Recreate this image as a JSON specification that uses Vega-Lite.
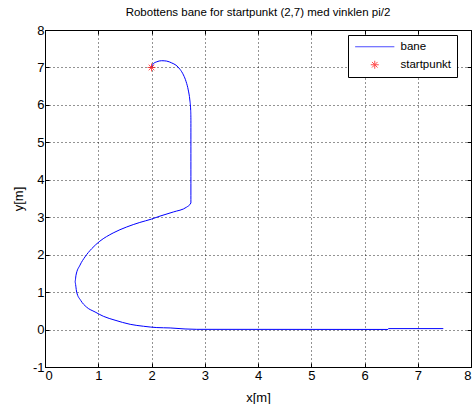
{
  "$schema": "https://vega.github.io/schema/vega-lite/v6.json",
  "autosize": {"type": "none"},
  "width": 426,
  "height": 337,
  "padding": {"left": 45, "top": 30, "right": 4, "bottom": 37},
  "background": "#ffffff",
  "config": {
    "font": "Liberation Sans",
    "view": {"stroke": "#000000", "strokeWidth": 1},
    "axis": {
      "domain": false,
      "gridColor": "#000000",
      "gridDash": [1, 3],
      "gridOpacity": 0.85,
      "gridWidth": 1,
      "tickColor": "#000000",
      "tickSize": -4,
      "labelFont": "Liberation Sans",
      "labelFontSize": 13,
      "labelColor": "#000000",
      "labelOverlap": false,
      "titleFont": "Liberation Sans",
      "titleFontSize": 13,
      "titleFontWeight": "normal",
      "titleColor": "#000000"
    }
  },
  "title": {
    "text": "Robottens bane for startpunkt (2,7) med vinklen pi/2",
    "font": "Liberation Sans",
    "fontSize": 11.5,
    "fontWeight": "normal",
    "color": "#000000",
    "anchor": "middle",
    "offset": 6
  },
  "datasets": {
    "path": [
      {"i": 0, "x": 2.0, "y": 7.0, "s": "bane"},
      {"i": 1, "x": 2.034, "y": 7.1, "s": "bane"},
      {"i": 2, "x": 2.098, "y": 7.15, "s": "bane"},
      {"i": 3, "x": 2.19, "y": 7.18, "s": "bane"},
      {"i": 4, "x": 2.285, "y": 7.17, "s": "bane"},
      {"i": 5, "x": 2.38, "y": 7.12, "s": "bane"},
      {"i": 6, "x": 2.46, "y": 7.06, "s": "bane"},
      {"i": 7, "x": 2.535, "y": 6.95, "s": "bane"},
      {"i": 8, "x": 2.6, "y": 6.8, "s": "bane"},
      {"i": 9, "x": 2.65, "y": 6.62, "s": "bane"},
      {"i": 10, "x": 2.69, "y": 6.4, "s": "bane"},
      {"i": 11, "x": 2.72, "y": 6.13, "s": "bane"},
      {"i": 12, "x": 2.736, "y": 5.86, "s": "bane"},
      {"i": 13, "x": 2.74, "y": 5.6, "s": "bane"},
      {"i": 14, "x": 2.74, "y": 3.38, "s": "bane"},
      {"i": 15, "x": 2.66, "y": 3.27, "s": "bane"},
      {"i": 16, "x": 2.41, "y": 3.14, "s": "bane"},
      {"i": 17, "x": 2.16, "y": 3.03, "s": "bane"},
      {"i": 18, "x": 2.0, "y": 2.95, "s": "bane"},
      {"i": 19, "x": 1.78, "y": 2.86, "s": "bane"},
      {"i": 20, "x": 1.535, "y": 2.74, "s": "bane"},
      {"i": 21, "x": 1.28, "y": 2.58, "s": "bane"},
      {"i": 22, "x": 1.03, "y": 2.36, "s": "bane"},
      {"i": 23, "x": 0.877, "y": 2.16, "s": "bane"},
      {"i": 24, "x": 0.751, "y": 1.94, "s": "bane"},
      {"i": 25, "x": 0.657, "y": 1.72, "s": "bane"},
      {"i": 26, "x": 0.582, "y": 1.45, "s": "bane"},
      {"i": 27, "x": 0.563, "y": 1.27, "s": "bane"},
      {"i": 28, "x": 0.595, "y": 1.0, "s": "bane"},
      {"i": 29, "x": 0.67, "y": 0.78, "s": "bane"},
      {"i": 30, "x": 0.78, "y": 0.6, "s": "bane"},
      {"i": 31, "x": 0.94, "y": 0.47, "s": "bane"},
      {"i": 32, "x": 1.095, "y": 0.355, "s": "bane"},
      {"i": 33, "x": 1.315, "y": 0.25, "s": "bane"},
      {"i": 34, "x": 1.6, "y": 0.14, "s": "bane"},
      {"i": 35, "x": 1.85, "y": 0.088, "s": "bane"},
      {"i": 36, "x": 2.1, "y": 0.053, "s": "bane"},
      {"i": 37, "x": 2.35, "y": 0.043, "s": "bane"},
      {"i": 38, "x": 2.63, "y": 0.016, "s": "bane"},
      {"i": 39, "x": 2.85, "y": 0.006, "s": "bane"},
      {"i": 40, "x": 6.44, "y": 0.003, "s": "bane"},
      {"i": 41, "x": 6.45, "y": 0.025, "s": "bane"},
      {"i": 42, "x": 7.48, "y": 0.025, "s": "bane"}
    ],
    "start": [
      {"x": 2, "y": 7, "s": "startpunkt"}
    ]
  },
  "resolve": {"axis": {"x": "independent", "y": "independent"}},
  "layer": [
    {
      "data": {"name": "path"},
      "mark": {"type": "line", "strokeWidth": 1, "interpolate": "monotone"},
      "encoding": {
        "x": {"field": "x", "type": "quantitative", "title": "x[m]",
              "scale": {"domain": [0, 8], "nice": false, "zero": false},
              "axis": {"values": [0,1,2,3,4,5,6,7,8], "grid": true, "labelPadding": 6, "titlePadding": 9,
                       "labelExpr": "datum.value < 0 ? '-' + abs(datum.value) : '' + datum.value"}},
        "y": {"field": "y", "type": "quantitative", "title": "y[m]",
              "scale": {"domain": [-1, 8], "nice": false, "zero": false},
              "axis": {"values": [-1,0,1,2,3,4,5,6,7,8], "grid": true, "labelPadding": 5, "titlePadding": 7,
                       "labelExpr": "datum.value < 0 ? '-' + abs(datum.value) : '' + datum.value"}},
        "order": {"field": "i", "type": "quantitative"},
        "color": {"field": "s", "type": "nominal",
                  "scale": {"domain": ["bane", "startpunkt"], "range": ["#0000ff", "#ff0000"]},
                  "legend": {
                    "title": null,
                    "orient": "none",
                    "legendX": 303,
                    "legendY": 5,
                    "strokeColor": "#000000",
                    "fillColor": "#ffffff",
                    "padding": 6,
                    "rowPadding": 5,
                    "labelFont": "Liberation Sans",
                    "labelFontSize": 11.5,
                    "labelColor": "#000000",
                    "symbolSize": 64,
                    "symbolStrokeWidth": 1,
                    "symbolOffset": 15,
                    "labelOffset": 20
                  }}
      }
    },
    {
      "data": {"name": "start"},
      "mark": {"type": "point", "filled": false, "size": 64, "strokeWidth": 1},
      "encoding": {
        "x": {"field": "x", "type": "quantitative",
              "axis": {"orient": "top", "values": [0,1,2,3,4,5,6,7,8], "labels": false, "grid": false, "title": null}},
        "y": {"field": "y", "type": "quantitative",
              "axis": {"orient": "right", "values": [-1,0,1,2,3,4,5,6,7,8], "labels": false, "grid": false, "title": null}},
        "color": {"field": "s", "type": "nominal"},
        "shape": {"field": "s", "type": "nominal",
                  "scale": {"domain": ["bane", "startpunkt"],
                            "range": ["M-4.9,0L4.9,0", "M-1,0L1,0M0,-1L0,1M-0.7,-0.7L0.7,0.7M-0.7,0.7L0.7,-0.7"]},
                  "legend": {
                    "title": null,
                    "orient": "none",
                    "legendX": 303,
                    "legendY": 5,
                    "strokeColor": "#000000",
                    "fillColor": "#ffffff",
                    "padding": 6,
                    "rowPadding": 5,
                    "labelFont": "Liberation Sans",
                    "labelFontSize": 11.5,
                    "labelColor": "#000000",
                    "symbolSize": 64,
                    "symbolStrokeWidth": 1,
                    "symbolOffset": 15,
                    "labelOffset": 20
                  }}
      }
    }
  ]
}
